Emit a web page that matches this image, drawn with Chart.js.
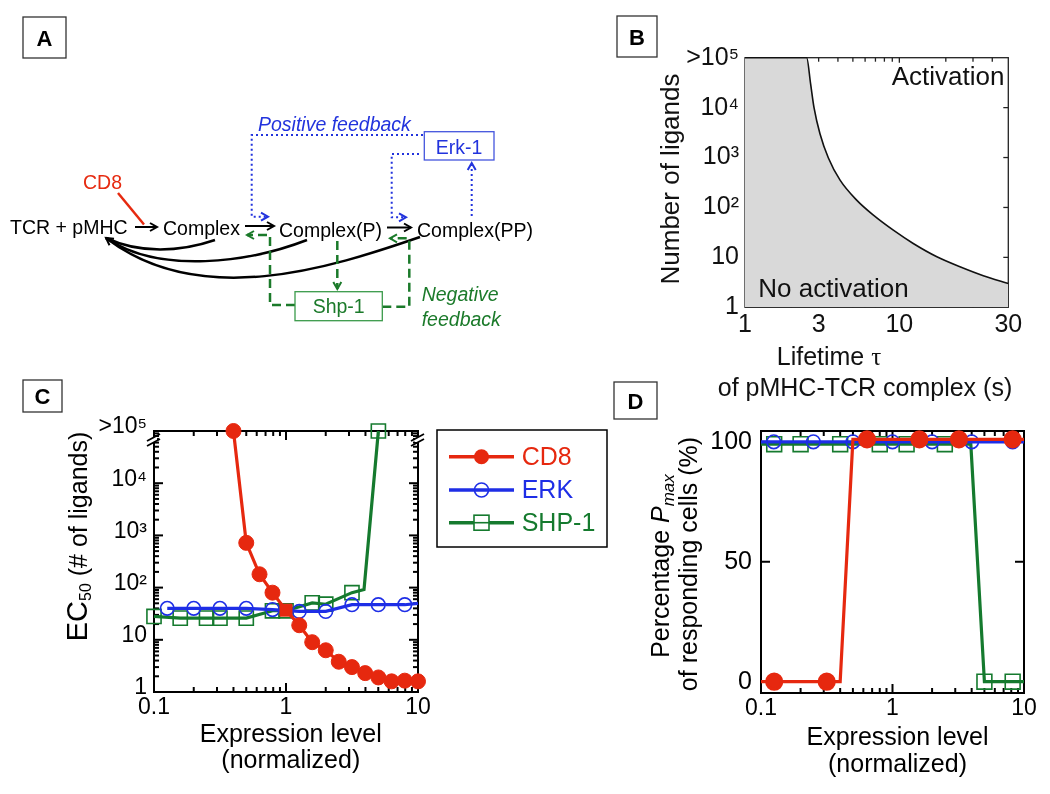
<!DOCTYPE html>
<html><head><meta charset="utf-8">
<script src="https://cdn.jsdelivr.net/npm/chart.js@4.4.0/dist/chart.umd.min.js"></script>
<style>
html,body{margin:0;padding:0;background:#fff;width:1050px;height:794px;overflow:hidden;font-family:"Liberation Sans",Arial,sans-serif;}
canvas{position:absolute;}
#ov{position:absolute;left:0;top:0;width:1050px;height:794px;pointer-events:none;}
</style></head><body>
<canvas id="cB" width="450" height="345" style="left:600px;top:0px;width:450px;height:345px"></canvas>
<canvas id="cC" width="640" height="414" style="left:0px;top:380px;width:640px;height:414px"></canvas>
<canvas id="cD" width="350" height="414" style="left:700px;top:380px;width:350px;height:414px"></canvas>

<svg id="ov" width="1050" height="794" viewBox="0 0 1050 794" xmlns="http://www.w3.org/2000/svg" font-family="Liberation Sans, Arial, sans-serif">
  <defs>
    <marker id="mk" markerWidth="12" markerHeight="12" refX="9" refY="6" orient="auto" markerUnits="userSpaceOnUse">
      <path d="M2,2 L9,6 L2,10" fill="none" stroke="#000" stroke-width="2" stroke-dasharray="none"/>
    </marker>
    <marker id="mb" markerWidth="12" markerHeight="12" refX="9" refY="6" orient="auto" markerUnits="userSpaceOnUse">
      <path d="M2,2 L9,6 L2,10" fill="none" stroke="#2233dd" stroke-width="2" stroke-dasharray="none"/>
    </marker>
    <marker id="mg" markerWidth="12" markerHeight="12" refX="9" refY="6" orient="auto" markerUnits="userSpaceOnUse">
      <path d="M2,2 L9,6 L2,10" fill="none" stroke="#1b7a2a" stroke-width="2" stroke-dasharray="none"/>
    </marker>
  </defs>

  <!-- Panel letters -->
  <g stroke="#333" stroke-width="1.3" fill="none">
    <rect x="23" y="17" width="43" height="41"/>
    <rect x="617" y="16" width="40" height="41"/>
    <rect x="23" y="380" width="39" height="32"/>
    <rect x="614" y="382" width="43" height="37"/>
  </g>
  <g font-weight="bold" font-size="22" text-anchor="middle" fill="#000">
    <text x="44.5" y="45.5">A</text>
    <text x="637" y="44.5">B</text>
    <text x="42.5" y="404">C</text>
    <text x="635.5" y="408.5">D</text>
  </g>

  <!-- Panel A diagram -->
  <g font-size="19.5" fill="#000">
    <text x="10" y="234">TCR + pMHC</text>
    <text x="163" y="235">Complex</text>
    <text x="279" y="236.5">Complex(P)</text>
    <text x="417" y="236.5">Complex(PP)</text>
  </g>
  <text x="83" y="189" font-size="19.5" fill="#e62a10">CD8</text>
  <line x1="118" y1="193" x2="144" y2="224.5" stroke="#e62a10" stroke-width="2.5"/>
  <g stroke="#000" stroke-width="2" fill="none">
    <line x1="135" y1="227" x2="157" y2="227" marker-end="url(#mk)"/>
    <line x1="245" y1="226" x2="274" y2="226" marker-end="url(#mk)"/>
    <line x1="387" y1="227.5" x2="411" y2="227.5" marker-end="url(#mk)"/>
  </g>
  <g stroke="#000" stroke-width="2.5" fill="none">
    <path d="M215,240 C180,252 140,254 106,238"/>
    <path d="M307,240 C250,262 160,275 106,238" marker-end="url(#mk)"/>
    <path d="M420,237 C330,268 200,310 106,238"/>
  </g>
  <!-- positive feedback (blue dotted) -->
  <g stroke="#2233dd" stroke-width="2" fill="none" stroke-dasharray="2 3">
    <path d="M423,135 H251.7 V216.7 H268" marker-end="url(#mb)"/>
    <path d="M419,154 H391.7 V217.3 H406" marker-end="url(#mb)"/>
    <path d="M471.7,216 V163" marker-end="url(#mb)"/>
  </g>
  <rect x="424.3" y="131.7" width="69.7" height="28.3" fill="#fff" stroke="#4455dd" stroke-width="1.3"/>
  <text x="459" y="154" font-size="19.5" fill="#2233dd" text-anchor="middle">Erk-1</text>
  <text x="258" y="130.7" font-size="19.5" fill="#2233dd" font-style="italic">Positive feedback</text>
  <!-- negative feedback (green dashed) -->
  <g stroke="#1b7a2a" stroke-width="2.5" fill="none" stroke-dasharray="9 5">
    <path d="M295,305 H270 V235 H247" marker-end="url(#mg)"/>
    <path d="M337.3,241 V289" marker-end="url(#mg)"/>
    <path d="M382.3,306.7 H409.3 V238.3 H390" marker-end="url(#mg)"/>
  </g>
  <rect x="295" y="291.7" width="87.3" height="29" fill="#fff" stroke="#3a9a4a" stroke-width="1.3"/>
  <text x="338.7" y="313.3" font-size="19.5" fill="#1b7a2a" text-anchor="middle">Shp-1</text>
  <g font-size="19.5" fill="#1b7a2a" font-style="italic">
    <text x="421.7" y="300.7">Negative</text>
    <text x="421.7" y="325.7">feedback</text>
  </g>

  <!-- Panel B annotations and titles -->
  <g font-size="26" fill="#111">
    <text x="891.7" y="85">Activation</text>
    <text x="758.3" y="296.7">No activation</text>
    <text transform="translate(679,179) rotate(-90)" text-anchor="middle">Number of ligands</text>
  </g>
  <g font-size="25" fill="#111" text-anchor="middle">
    <text x="829" y="365">Lifetime <tspan font-family="Liberation Serif, serif">τ</tspan></text>
    <text x="865" y="396">of pMHC-TCR complex (s)</text>
  </g>

  <!-- Panel C titles -->
  <g font-size="25" fill="#000" text-anchor="middle">
    <text x="290.8" y="741.7">Expression level</text>
    <text x="290.8" y="768">(normalized)</text>
    <text transform="translate(87,536.5) rotate(-90)"><tspan font-size="29">EC</tspan><tspan font-size="16" dy="4">50</tspan><tspan dy="-4"> (# of ligands)</tspan></text>
  </g>
  <!-- Panel D titles -->
  <g font-size="25" fill="#000" text-anchor="middle">
    <text x="897.5" y="745">Expression level</text>
    <text x="897.5" y="772">(normalized)</text>
    <text transform="translate(668.5,566) rotate(-90)">Percentage <tspan font-style="italic">P</tspan><tspan font-size="17" font-style="italic" dy="5">max</tspan></text>
    <text transform="translate(697,564) rotate(-90)">of responding cells (%)</text>
  </g>
</svg>

<script>
// ---------------- DATA ----------------
// Panel B: activation threshold (boundary curve)
const lifetimeTau = [1, 2.51, 2.66, 2.8, 3.06, 3.47, 4.13, 5.29, 6.79, 9.14, 12.3, 17.5, 24.7, 35, 50.8];
const ligandThreshold = [1e5, 1e5, 30200, 10000, 3000, 980, 352, 140, 70, 35, 19, 10.3, 6.5, 4.3, 3.0];
const B_X_TICKS = [1, 3, 10, 50.8];
const B_X_LABELS = ['1', '3', '10', '30'];
const B_Y_TICKS = [1, 10, 100, 1000, 10000, 100000];
const B_Y_LABELS = ['1', '10', '10²', '10³', '10⁴', '>10⁵'];

// Panel C: EC50 vs expression level
const seriesNames = ['CD8', 'ERK', 'SHP-1'];
const cd8ExprC = [0.4, 0.5, 0.63, 0.79, 1, 1.26, 1.58, 2, 2.51, 3.16, 3.98, 5.01, 6.31, 7.94, 10];
const cd8EC50 = [1e5, 720, 180, 80, 37, 19, 9, 6.3, 3.8, 3.0, 2.3, 1.9, 1.6, 1.65, 1.6];
const erkExprC = [0.126, 0.2, 0.316, 0.5, 0.79, 1.26, 2, 3.16, 5, 7.94, 10];
const erkEC50 = [40, 40, 40, 40, 38, 35, 35, 47, 47, 47, 50];
const shpExprC = [0.1, 0.158, 0.25, 0.316, 0.5, 0.79, 1, 1.58, 2, 3.16, 3.9, 5.01];
const shpEC50 = [28, 26, 26, 26, 26, 36, 36, 51, 48, 80, 92, 1e5];
const C_X_TICKS = [0.1, 1, 10];
const C_X_LABELS = ['0.1', '1', '10'];
const C_Y_TICKS = [1, 10, 100, 1000, 10000, 100000];
const C_Y_LABELS = ['1', '10', '10²', '10³', '10⁴', '>10⁵'];

// Panel D: percentage of responding cells
const cd8ExprD = [0.1, 0.126, 0.316, 0.4, 0.5, 0.64, 1.6, 3.2, 8.2, 10];
const cd8PctD = [0, 0, 0, 0, 101, 101, 101, 101, 101, 101];
const erkExprD = [0.1, 0.125, 0.25, 0.5, 1, 2, 4, 8.2, 10];
const erkPctD = [100, 100, 100, 100, 100, 100, 100, 100, 100];
const shpExprD = [0.1, 0.126, 0.2, 0.4, 0.8, 1.28, 2.5, 3.94, 5, 8.2, 10];
const shpPctD = [99, 99, 99, 99, 99, 99, 99, 99, 0, 0, 0];
const D_X_TICKS = [0.1, 1, 10];
const D_X_LABELS = ['0.1', '1', '10'];
const D_Y_TICKS = [0, 50, 100];
const D_Y_LABELS = ['0', '50', '100'];

// minor tick positions (frame marks)
const LOG_MINOR_01_10 = [0.2,0.3,0.4,0.5,0.6,0.7,0.8,0.9,2,3,4,5,6,7,8,9];
const LOG_MINOR_1_1e5 = [2,3,4,5,6,7,8,9,20,30,40,50,60,70,80,90,200,300,400,500,600,700,800,900,2000,3000,4000,5000,6000,7000,8000,9000,20000,30000,40000,50000,60000,70000,80000,90000];
const B_X_MINOR = [2,3,4,5,6,7,8,9,20,30,40];

// ---------------- STYLE ----------------
const FONT = "'Liberation Sans', Arial, sans-serif";
const RED = '#e6280f', BLUE = '#1e2ee6', GREEN = '#157a2e';
const pts = (xs, ys) => xs.map((x, i) => ({x, y: ys[i]}));

const frameTicks = {
  id: 'frameTicks',
  beforeDatasetsDraw(chart, args, o) {
    const {ctx, chartArea: a} = chart;
    const sx = chart.scales.x, sy = chart.scales.y;
    ctx.save();
    ctx.strokeStyle = o.color; ctx.lineWidth = o.lw; ctx.lineCap = 'butt';
    const ln = (x1, y1, x2, y2) => { ctx.beginPath(); ctx.moveTo(x1, y1); ctx.lineTo(x2, y2); ctx.stroke(); };
    ctx.strokeRect(a.left, a.top, a.right - a.left, a.bottom - a.top);
    const xt = (vals, len) => vals.forEach(v => { const p = sx.getPixelForValue(v); ln(p, a.bottom, p, a.bottom - len); ln(p, a.top, p, a.top + len); });
    const yt = (vals, len) => vals.forEach(v => { const p = sy.getPixelForValue(v); ln(a.left, p, a.left + len, p); ln(a.right, p, a.right - len, p); });
    xt(o.xMajor, o.major); xt(o.xMinor, o.minor);
    yt(o.yMajor, o.major); yt(o.yMinor, o.minor);
    if (o.breakMark) {
      [a.left, a.right].forEach(x => {
        const y = a.top + 9;
        ctx.fillStyle = '#fff';
        ctx.fillRect(x - 3, y - 3, 6, 5);
        ctx.lineWidth = 1.8;
        ln(x - 7, y + 1, x + 6, y - 6);
        ln(x - 7, y + 6, x + 6, y - 1);
      });
    }
    ctx.restore();
  }
};

const legendBox = {
  id: 'legendBox',
  afterDraw(chart, args, o) {
    if (!o || !o.show) return;
    const ctx = chart.ctx;
    ctx.save();
    ctx.strokeStyle = '#000'; ctx.lineWidth = 1.5;
    ctx.strokeRect(o.x, o.y, o.w, o.h);
    chart.data.datasets.forEach((ds, i) => {
      const yy = o.rows[i];
      ctx.strokeStyle = ds.borderColor; ctx.lineWidth = 3.5;
      ctx.beginPath(); ctx.moveTo(o.lx1, yy); ctx.lineTo(o.lx2, yy); ctx.stroke();
      const cx = (o.lx1 + o.lx2) / 2;
      ctx.lineWidth = 1.6;
      if (i === 0) { ctx.fillStyle = ds.borderColor; ctx.beginPath(); ctx.arc(cx, yy, 7.5, 0, Math.PI * 2); ctx.fill(); }
      else if (i === 1) { ctx.fillStyle = '#fff'; ctx.beginPath(); ctx.arc(cx, yy, 7, 0, Math.PI * 2); ctx.fill(); ctx.stroke();
        ctx.lineWidth = 3.5; ctx.beginPath(); ctx.moveTo(cx - 7, yy); ctx.lineTo(cx + 7, yy); ctx.stroke(); }
      else { ctx.fillStyle = '#fff'; ctx.fillRect(cx - 7.5, yy - 7.5, 15, 15); ctx.strokeRect(cx - 7.5, yy - 7.5, 15, 15);
        ctx.lineWidth = 1.6; ctx.beginPath(); ctx.moveTo(cx - 7.5, yy); ctx.lineTo(cx + 7.5, yy); ctx.stroke(); }
      ctx.fillStyle = ds.borderColor;
      ctx.font = '25px ' + FONT; ctx.textAlign = 'left'; ctx.textBaseline = 'middle';
      ctx.fillText(ds.label, o.tx, yy + 1);
    });
    ctx.restore();
  }
};

function axis(type, min, max, ticks, labels, fit, extra) {
  return Object.assign({
    type, min, max,
    grid: {display: false, drawTicks: false},
    border: {display: false},
    afterBuildTicks: s => { s.ticks = ticks.map(v => ({value: v})); },
    afterFit: fit,
    ticks: Object.assign({
      callback: (v, i) => labels[i],
      color: '#000', autoSkip: false, maxRotation: 0, minRotation: 0,
      font: {family: FONT, size: 23}
    }, extra || {})
  });
}

const baseOpts = (padding, scales, plugins) => ({
  responsive: false, animation: false, events: [],
  layout: {padding},
  scales,
  plugins: Object.assign({legend: {display: false}, tooltip: {enabled: false}}, plugins)
});

// ---------------- Panel B ----------------
new Chart(document.getElementById('cB'), {
  type: 'line',
  data: {datasets: [{
    data: pts(lifetimeTau, ligandThreshold),
    borderColor: '#111', borderWidth: 1.6, pointRadius: 0,
    fill: 'start', backgroundColor: '#d9d9d9', cubicInterpolationMode: 'monotone', clip: false
  }]},
  options: baseOpts({left: 0, top: 57.7, right: 41.7, bottom: 0}, {
    x: axis('logarithmic', 1, 50.8, B_X_TICKS, B_X_LABELS, s => { s.height = 37.7; },
      {padding: 3, color: '#111', font: {family: FONT, size: 25}}),
    y: axis('logarithmic', 1, 1e5, B_Y_TICKS, B_Y_LABELS, s => { s.width = 145; },
      {padding: 6, color: '#111', font: {family: FONT, size: 25}})
  }, {frameTicks: {color: '#222', lw: 1.3, major: 5, minor: 4,
      xMajor: [10], xMinor: B_X_MINOR, yMajor: [10, 100, 1000, 10000], yMinor: []}}),
  plugins: [frameTicks]
});

// ---------------- Panel C ----------------
new Chart(document.getElementById('cC'), {
  type: 'line',
  data: {datasets: [
    {label: seriesNames[0], data: pts(cd8ExprC, cd8EC50), borderColor: RED, borderWidth: 3.2,
     pointBackgroundColor: RED, pointBorderColor: RED, pointBorderWidth: 1,
     pointStyle: cd8ExprC.map(v => v === 1 ? 'rect' : 'circle'),
     pointRadius: cd8ExprC.map(v => v === 1 ? 8.5 : 7.5), tension: 0, clip: false},
    {label: seriesNames[1], data: pts(erkExprC, erkEC50), borderColor: BLUE, borderWidth: 3.2,
     pointBackgroundColor: 'rgba(0,0,0,0)', pointBorderColor: BLUE, pointBorderWidth: 1.6,
     pointStyle: 'circle', pointRadius: erkExprC.map(v => v === 10 ? 0 : 6.8), tension: 0, clip: false},
    {label: seriesNames[2], data: pts(shpExprC, shpEC50), borderColor: GREEN, borderWidth: 3.2,
     pointBackgroundColor: 'rgba(0,0,0,0)', pointBorderColor: GREEN, pointBorderWidth: 1.6,
     pointStyle: 'rect', pointRadius: shpExprC.map(v => v === 3.9 ? 0 : 10), tension: 0, clip: false}
  ]},
  options: baseOpts({left: 0, top: 51, right: 222, bottom: 62}, {
    x: axis('logarithmic', 0.1, 10, C_X_TICKS, C_X_LABELS, s => { s.height = 40; }, {padding: 2}),
    y: axis('logarithmic', 1, 1e5, C_Y_TICKS, C_Y_LABELS, s => { s.width = 154; },
      {padding: 7, labelOffset: -4, font: {family: FONT, size: 23}})
  }, {
    frameTicks: {color: '#000', lw: 2, major: 9, minor: 5, breakMark: true,
      xMajor: C_X_TICKS, xMinor: LOG_MINOR_01_10, yMajor: C_Y_TICKS, yMinor: LOG_MINOR_1_1e5},
    legendBox: {show: true, x: 437, y: 50, w: 170, h: 117, rows: [76.7, 110, 142.7], lx1: 449, lx2: 514, tx: 521.7}
  }),
  plugins: [frameTicks, legendBox]
});

// ---------------- Panel D ----------------
new Chart(document.getElementById('cD'), {
  type: 'line',
  data: {datasets: [
    {label: seriesNames[0], data: pts(cd8ExprD, cd8PctD), borderColor: RED, borderWidth: 3.2,
     pointBackgroundColor: RED, pointBorderColor: RED,
     pointRadius: cd8ExprD.map(v => [0.1, 0.4, 0.5, 10].includes(v) ? 0 : 7.5), tension: 0, clip: false},
    {label: seriesNames[1], data: pts(erkExprD, erkPctD), borderColor: BLUE, borderWidth: 3.2,
     pointBackgroundColor: 'rgba(0,0,0,0)', pointBorderColor: BLUE, pointBorderWidth: 1.6,
     pointRadius: erkExprD.map(v => [0.1, 10].includes(v) ? 0 : 6.8), tension: 0, clip: false},
    {label: seriesNames[2], data: pts(shpExprD, shpPctD), borderColor: GREEN, borderWidth: 3.2,
     pointBackgroundColor: 'rgba(0,0,0,0)', pointBorderColor: GREEN, pointBorderWidth: 1.6, pointStyle: 'rect',
     pointRadius: shpExprD.map(v => [0.1, 3.94, 10].includes(v) ? 0 : 10.5), tension: 0, clip: false}
  ]},
  options: baseOpts({left: 0, top: 51, right: 26, bottom: 61}, {
    x: axis('logarithmic', 0.1, 10, D_X_TICKS, D_X_LABELS, s => { s.height = 40; }, {padding: 2}),
    y: axis('linear', -4.7, 104.5, D_Y_TICKS, D_Y_LABELS, s => { s.width = 61; },
      {padding: 9, font: {family: FONT, size: 25}})
  }, {frameTicks: {color: '#000', lw: 2, major: 9, minor: 5,
      xMajor: D_X_TICKS, xMinor: LOG_MINOR_01_10, yMajor: D_Y_TICKS, yMinor: []}}),
  plugins: [frameTicks]
});
</script>
</body></html>
